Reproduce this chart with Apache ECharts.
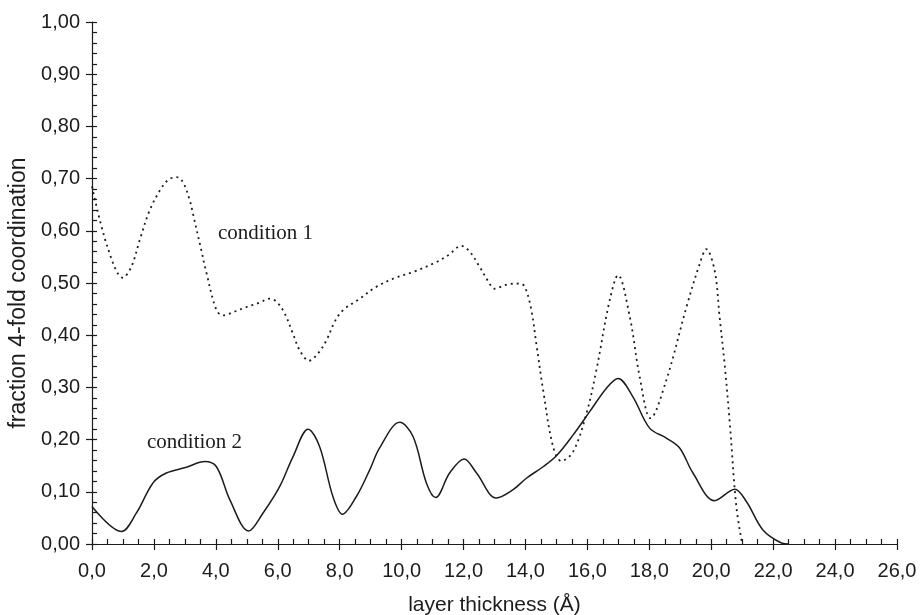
<!DOCTYPE html>
<html>
<head>
<meta charset="utf-8">
<script src="https://cdn.jsdelivr.net/npm/echarts@6/dist/echarts.min.js"></script>
<style>
  html, body { margin: 0; padding: 0; background: #fff; }
  #chart { width: 920px; height: 615px; }
</style>
</head>
<body>
<div id="chart"></div>
<script>
// layer thickness (Å) and fraction of 4-fold coordinated atoms
const cond1X = [0, 0.5, 1.0, 1.27, 1.54, 1.86, 2.19, 2.45, 2.73, 2.94, 3.16, 3.26, 3.53, 3.69, 4.02, 4.23, 4.6, 4.99, 5.4, 5.74, 5.96, 6.22, 6.49, 6.71, 7.01, 7.3, 7.57, 7.84, 8.11, 8.65, 9.19, 9.8, 10.37, 11.12, 11.5, 11.93, 12.2, 12.52, 12.8, 13.0, 13.4, 13.81, 13.98, 14.19, 14.35, 14.57, 14.89, 15.16, 15.54, 15.97, 16.29, 16.72, 16.99, 17.37, 17.69, 18.04, 18.55, 19.2, 19.63, 19.84, 20.11, 20.27, 20.44, 20.6, 20.81, 21.0];
const cond1Y = [0.685, 0.569, 0.51, 0.531, 0.582, 0.639, 0.677, 0.697, 0.703, 0.693, 0.658, 0.633, 0.563, 0.521, 0.448, 0.438, 0.445, 0.454, 0.462, 0.470, 0.464, 0.442, 0.403, 0.371, 0.351, 0.365, 0.39, 0.426, 0.448, 0.470, 0.493, 0.51, 0.521, 0.540, 0.553, 0.571, 0.560, 0.531, 0.503, 0.489, 0.497, 0.499, 0.493, 0.448, 0.384, 0.295, 0.187, 0.159, 0.177, 0.25, 0.333, 0.467, 0.515, 0.435, 0.32, 0.241, 0.314, 0.454, 0.537, 0.565, 0.524, 0.435, 0.34, 0.231, 0.072, 0.0];

const cond2X = [0, 0.95, 1.43, 1.97, 2.4, 3.05, 3.64, 4.02, 4.45, 5.06, 5.52, 6.06, 6.49, 6.98, 7.35, 7.78, 8.09, 8.54, 8.97, 9.29, 9.94, 10.37, 10.8, 11.1, 11.55, 12.02, 12.42, 13.06, 13.6, 14.03, 14.57, 15.0, 15.54, 16.08, 16.61, 16.99, 17.47, 18.01, 18.55, 18.98, 19.41, 20.11, 20.76, 21.14, 21.67, 22.27, 22.5];
const cond2Y = [0.072, 0.024, 0.059, 0.117, 0.136, 0.147, 0.158, 0.148, 0.085, 0.025, 0.059, 0.11, 0.167, 0.22, 0.187, 0.091, 0.057, 0.091, 0.142, 0.184, 0.233, 0.206, 0.117, 0.089, 0.136, 0.163, 0.136, 0.088, 0.104, 0.126, 0.148, 0.169, 0.209, 0.254, 0.298, 0.317, 0.282, 0.222, 0.203, 0.184, 0.136, 0.083, 0.105, 0.081, 0.027, 0.002, 0.0];

const xMin = 0, xMax = 26, xStep = 2, xMinorStep = 0.5;
const yMin = 0, yMax = 1, yStep = 0.1, yMinorStep = 0.02;

const pairs = (xs, ys) => xs.map((x, i) => [x, ys[i]]);
const comma = (v, d) => v.toFixed(d).replace('.', ',');

const ink = '#1c1c1c';
const sans = 'Liberation Sans';

const chart = echarts.init(document.getElementById('chart'), null, { renderer: 'canvas' });

const lineAxis = { show: true, lineStyle: { color: ink, width: 1.2 } };

chart.setOption({
  animation: false,
  backgroundColor: '#fff',
  grid: { left: 92, right: 23, top: 22, bottom: 71, containLabel: false, outerBoundsMode: 'none' },
  xAxis: [
    {
      type: 'value', min: xMin, max: xMax, interval: xStep, position: 'bottom',
      name: 'layer thickness (Å)', nameLocation: 'middle', nameGap: 51,
      nameTextStyle: { fontFamily: sans, fontSize: 21, color: ink },
      axisLine: lineAxis,
      axisTick: { show: true, inside: false, length: 6, lineStyle: { color: ink, width: 1.2 } },
      axisLabel: { fontFamily: sans, fontSize: 20, color: ink, margin: 17, formatter: v => comma(v, 1) },
      splitLine: { show: false }
    },
    {
      type: 'value', min: xMin, max: xMax, interval: xMinorStep, position: 'bottom',
      axisLine: { show: false },
      axisTick: { show: true, inside: true, length: 5, lineStyle: { color: ink, width: 1.2 } },
      axisLabel: { show: false },
      splitLine: { show: false }
    }
  ],
  yAxis: [
    {
      type: 'value', min: yMin, max: yMax, interval: yStep, position: 'left',
      name: 'fraction 4-fold coordination', nameLocation: 'middle', nameGap: 57,
      nameTextStyle: { fontFamily: sans, fontSize: 23, color: ink, padding: [0, 20, 0, 0] },
      axisLine: lineAxis,
      axisTick: { show: true, inside: false, length: 6, lineStyle: { color: ink, width: 1.2 } },
      axisLabel: { fontFamily: sans, fontSize: 20, color: ink, margin: 12, formatter: v => comma(v, 2) },
      splitLine: { show: false }
    },
    {
      type: 'value', min: yMin, max: yMax, interval: yMinorStep, position: 'left',
      axisLine: { show: false },
      axisTick: { show: true, inside: true, length: 5, lineStyle: { color: ink, width: 1.2 } },
      axisLabel: { show: false },
      splitLine: { show: false }
    }
  ],
  series: [
    {
      name: 'condition 1', type: 'line', xAxisIndex: 0, yAxisIndex: 0,
      data: pairs(cond1X, cond1Y), smooth: 0.35, showSymbol: false, symbol: 'none',
      lineStyle: { color: ink, width: 1.8, type: [2, 4] }
    },
    {
      name: 'condition 2', type: 'line', xAxisIndex: 0, yAxisIndex: 0,
      data: pairs(cond2X, cond2Y), smooth: 0.35, showSymbol: false, symbol: 'none',
      lineStyle: { color: ink, width: 1.5 }
    }
  ],
  graphic: [
    { type: 'text', x: 218, y: 233, style: { text: 'condition 1', font: '21px "Liberation Serif"', fill: ink, verticalAlign: 'middle' } },
    { type: 'text', x: 147, y: 442, style: { text: 'condition 2', font: '21px "Liberation Serif"', fill: ink, verticalAlign: 'middle' } }
  ]
});
</script>
</body>
</html>
